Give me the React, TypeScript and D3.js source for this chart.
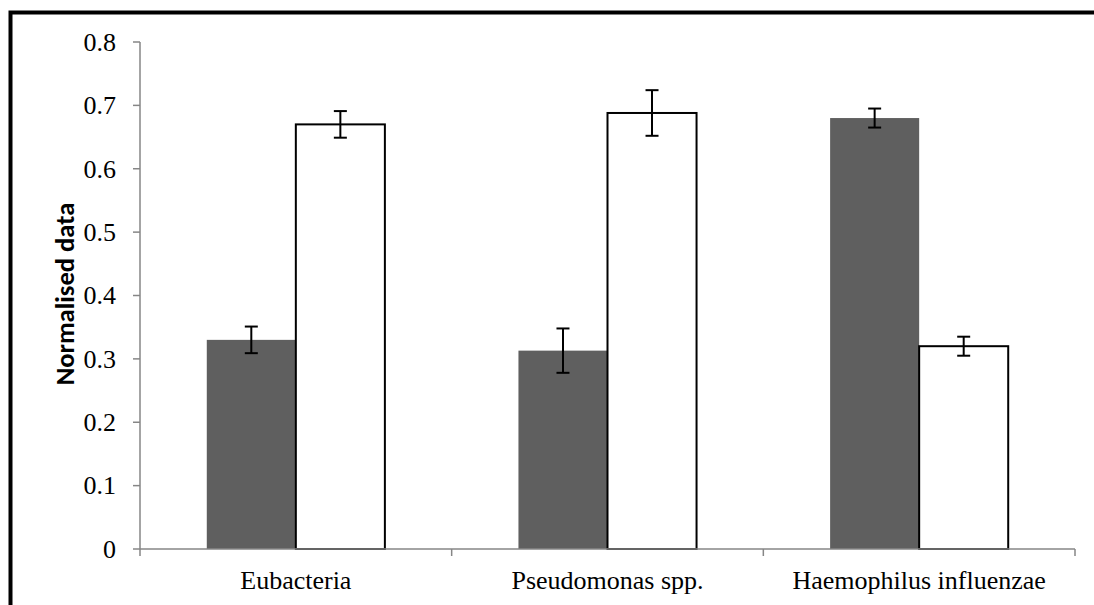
import React from "react";
import * as d3 from "d3";

const categories = ["Eubacteria", "Pseudomonas spp.", "Haemophilus influenzae"];
const seriesA = [0.33, 0.313, 0.68];
const seriesB = [0.67, 0.688, 0.32];
const errA = [0.021, 0.035, 0.015];
const errB = [0.021, 0.036, 0.015];
const yTicks = [0, 0.1, 0.2, 0.3, 0.4, 0.5, 0.6, 0.7, 0.8];

export default function App() {
  const W = 1094, H = 605;
  const left = 140, right = 1075, top = 42, bottom = 549;
  const y = d3.scaleLinear().domain([0, 0.8]).range([bottom, top]);
  const x = d3.scaleBand().domain(categories).range([left, right]).paddingInner(0).paddingOuter(0);
  const bw = x.bandwidth();
  const barW = bw / (2 + 1.5);
  const serif = "'Liberation Serif', 'Times New Roman', serif";
  const series = [
    { vals: seriesA, errs: errA, fill: "#5f5f5f", stroke: "none" },
    { vals: seriesB, errs: errB, fill: "#ffffff", stroke: "#000" },
  ];
  return (
    <svg width={W} height={H} style={{ position: "absolute", left: 0, top: 0 }}>
      <rect x={0} y={0} width={W} height={H} fill="#fff" />
      <rect x={10.5} y={12.5} width={W + 20} height={H + 20} fill="none" stroke="#000" strokeWidth={4} />
      {yTicks.map((t) => (
        <g key={t}>
          <line x1={133} x2={left} y1={y(t)} y2={y(t)} stroke="#868686" strokeWidth={1.5} />
          <text x={116} y={y(t)} dy="0.34em" textAnchor="end" fontFamily={serif} fontSize={26}>
            {t === 0 ? "0" : t.toFixed(1)}
          </text>
        </g>
      ))}
      {categories.map((c, i) => {
        const x0 = (x(c) as number) + (bw - 2 * barW) / 2;
        return (
          <g key={c}>
            {series.map((s, j) => {
              const bx = x0 + j * barW;
              const v = s.vals[i];
              const e = s.errs[i];
              const cx = bx + barW / 2;
              return (
                <g key={j}>
                  <rect x={bx} y={y(v)} width={barW} height={bottom - y(v)} fill={s.fill}
                    stroke={s.stroke} strokeWidth={2} />
                  <line x1={cx} x2={cx} y1={y(v + e)} y2={y(v - e)} stroke="#000" strokeWidth={2} />
                  <line x1={cx - 6.5} x2={cx + 6.5} y1={y(v + e)} y2={y(v + e)} stroke="#000" strokeWidth={2} />
                  <line x1={cx - 6.5} x2={cx + 6.5} y1={y(v - e)} y2={y(v - e)} stroke="#000" strokeWidth={2} />
                </g>
              );
            })}
            <text x={(x(c) as number) + bw / 2} y={589} textAnchor="middle" fontFamily={serif} fontSize={26}>
              {c}
            </text>
          </g>
        );
      })}
      <line x1={left} x2={left} y1={top} y2={bottom} stroke="#868686" strokeWidth={1.5} />
      <line x1={left} x2={right} y1={bottom} y2={bottom} stroke="#868686" strokeWidth={1.5} />
      {[0, 1, 2, 3].map((k) => (
        <line key={k} x1={left + k * bw} x2={left + k * bw} y1={bottom} y2={bottom + 7} stroke="#868686" strokeWidth={1.5} />
      ))}
      <text transform={`translate(74,294) rotate(-90)`} textAnchor="middle"
        fontFamily="Carlito, Lato, 'Open Sans', sans-serif" fontWeight="bold" fontSize={26.6}>
        Normalised data
      </text>
    </svg>
  );
}
